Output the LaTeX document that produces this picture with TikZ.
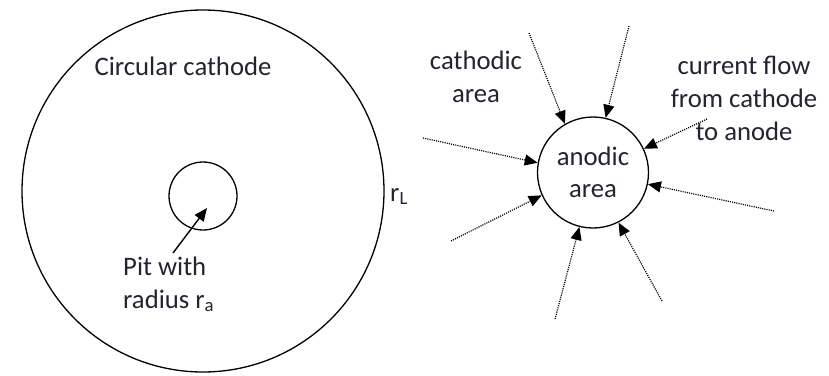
\documentclass[tikz,border=0pt]{standalone}
\usepackage{fontspec}
\setmainfont{Carlito}
\usetikzlibrary{arrows.meta}
\definecolor{txt}{RGB}{35,35,50}
\begin{document}
\begin{tikzpicture}[x=1pt,y=-1pt,
  lbl/.style={font=\fontsize{26.7}{32.6}\selectfont, text=txt, inner sep=0pt, align=center},
  ring/.style={draw, circle, line width=1.3pt, inner sep=0pt},
  tip/.style={-{Triangle[length=13pt,width=11pt]}},
  flow/.style={tip, dash pattern=on 1.1pt off 1.1pt, line width=1.2pt}]
\useasboundingbox (0,0) rectangle (829,375);
% left part
\node[ring, minimum size=362pt] (cath) at (203,191) {};
\node[ring, minimum size=68pt] (pit) at (203,196) {};
\node[lbl, anchor=base] (cathlbl) at (183,75) {Circular cathode};
\node[lbl, anchor=base west, align=left] (pitlbl) at (123,308) {Pit with\\radius r\textsubscript{a}};
\node[lbl, anchor=base west] (rl) at (390,201) {r\textsubscript{L}};
\coordinate (pitfrom) at (173,253);
\coordinate (pittip) at (207,208);
\draw[tip, line width=1.4pt] (pitfrom) -- (pittip);
% right part
\node[ring, lbl, draw=black, minimum size=111pt] (anode) at (593,172.5) {anodic\\area};
\node[lbl, anchor=base] (cathodic) at (476,102) {cathodic\\area};
\node[lbl, anchor=base] (current) at (744,140) {current flow\\from cathode\\to anode};
\coordinate (s1) at (529,33);
\coordinate (s2) at (629,26);
\coordinate (s3) at (707,119);
\coordinate (s4) at (423,138);
\coordinate (s5) at (774,211);
\coordinate (s6) at (451,241);
\coordinate (s7) at (555,319);
\coordinate (s8) at (662,301);
\draw[flow] (s1) -- (anode.120);
\draw[flow] (s2) -- (anode.77);
\draw[flow] (s3) -- (anode.25);
\draw[flow] (s4) -- (anode.170);
\draw[flow] (s5) -- (anode.-12);
\draw[flow] (s6) -- (anode.204);
\draw[flow] (s7) -- (anode.256);
\draw[flow] (s8) -- (anode.297);
\end{tikzpicture}
\end{document}
